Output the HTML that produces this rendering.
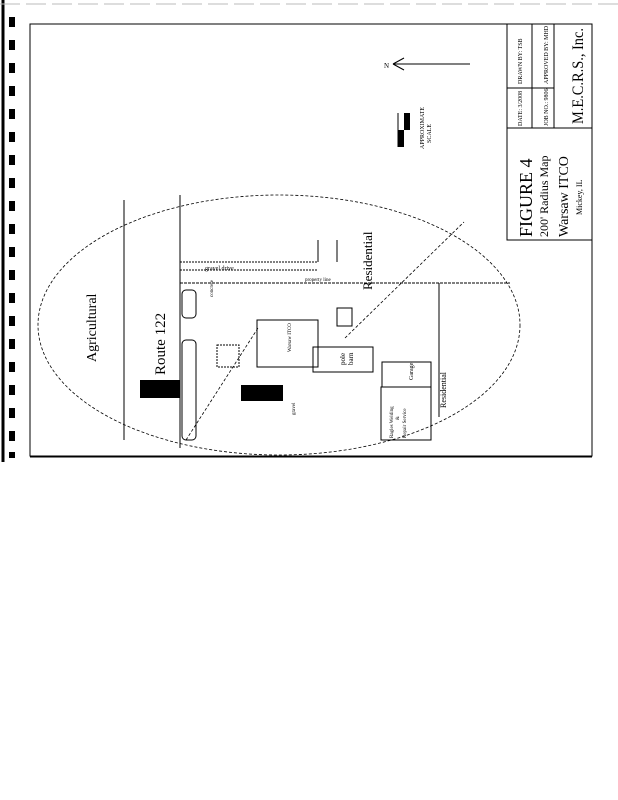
<!DOCTYPE html>
<html><head><style>
html,body{margin:0;padding:0;background:#fff;}
svg{display:block;}
text{font-family:"Liberation Serif",serif;fill:#000;}
</style></head><body>
<svg width="618" height="800" viewBox="0 0 618 800" xmlns="http://www.w3.org/2000/svg">
<rect width="618" height="800" fill="#fff"/>
<line x1="3" y1="0" x2="3" y2="462" stroke="#000" stroke-width="3"/>
<line x1="0" y1="4" x2="618" y2="4" stroke="#bbb" stroke-width="1" stroke-dasharray="20,6"/>
<g fill="#000">
<rect x="9" y="17" width="6" height="10"/><rect x="9" y="40" width="6" height="10"/><rect x="9" y="63" width="6" height="10"/>
<rect x="9" y="86" width="6" height="10"/><rect x="9" y="109" width="6" height="10"/><rect x="9" y="132" width="6" height="10"/>
<rect x="9" y="155" width="6" height="10"/><rect x="9" y="178" width="6" height="10"/><rect x="9" y="201" width="6" height="10"/>
<rect x="9" y="224" width="6" height="10"/><rect x="9" y="247" width="6" height="10"/><rect x="9" y="270" width="6" height="10"/>
<rect x="9" y="293" width="6" height="10"/><rect x="9" y="316" width="6" height="10"/><rect x="9" y="339" width="6" height="10"/>
<rect x="9" y="362" width="6" height="10"/><rect x="9" y="385" width="6" height="10"/><rect x="9" y="408" width="6" height="10"/>
<rect x="9" y="431" width="6" height="10"/><rect x="9" y="452" width="6" height="6"/>
</g>
<rect x="30" y="24" width="562" height="432" fill="none" stroke="#000" stroke-width="1"/>
<line x1="30" y1="457" x2="592" y2="457" stroke="#000" stroke-width="1"/>
<!-- title block -->
<rect x="507" y="24" width="85" height="216" fill="none" stroke="#000"/>
<line x1="507" y1="128" x2="592" y2="128" stroke="#000"/>
<line x1="532" y1="24" x2="532" y2="128" stroke="#000"/>
<line x1="554" y1="24" x2="554" y2="128" stroke="#000"/>
<line x1="507" y1="88" x2="554" y2="88" stroke="#000"/>
<g transform="rotate(-90)">
<text x="-237" y="532" font-size="18">FIGURE 4</text>
<text x="-237" y="548" font-size="12">200' Radius Map</text>
<text x="-237" y="568" font-size="14">Warsaw ITCO</text>
<text x="-215" y="582" font-size="8">Mickey, IL</text>
<text x="-124" y="583" font-size="16" textLength="96" lengthAdjust="spacingAndGlyphs">M.E.C.R.S., Inc.</text>
<text x="-126" y="522" font-size="6">DATE: 3/2008</text>
<text x="-84" y="522" font-size="6">DRAWN BY: TSB</text>
<text x="-126" y="548" font-size="6">JOB NO.: 9806</text>
<text x="-84" y="548" font-size="6">APPROVED BY: MHD</text>
<text x="-149" y="424" font-size="6">APPROXIMATE</text>
<text x="-143" y="431" font-size="6">SCALE</text>
<text x="-362" y="96" font-size="14">Agricultural</text>
<text x="-375" y="165" font-size="15">Route 122</text>
<text x="-290" y="372" font-size="13">Residential</text>
<text x="-408" y="446" font-size="8">Residential</text>
<text x="-352" y="291" font-size="5">Warsaw ITCO</text>
<text x="-365" y="345" font-size="7">pole</text>
<text x="-365" y="353" font-size="7">barn</text>
<text x="-380" y="413" font-size="6">Garage</text>
<text x="-438" y="393" font-size="5">Ragles Welding</text>
<text x="-420" y="399" font-size="5">&amp;</text>
<text x="-438" y="406" font-size="5">Repair Service</text>
<text x="-415" y="295" font-size="5">gravel</text>
<text x="-297" y="213" font-size="5">concrete</text>
</g>
<!-- scale bar -->
<rect x="398" y="130" width="6" height="17" fill="#000"/>
<rect x="404" y="113" width="6" height="17" fill="#000"/>
<line x1="398" y1="113" x2="398" y2="147" stroke="#000"/>
<!-- north arrow -->
<line x1="393" y1="64" x2="470" y2="64" stroke="#000"/>
<line x1="393" y1="64" x2="404" y2="58" stroke="#000"/>
<line x1="393" y1="64" x2="404" y2="70" stroke="#000"/>
<text x="384" y="68" font-size="7">N</text>
<!-- ellipse -->
<ellipse cx="279" cy="325" rx="241" ry="130" fill="none" stroke="#000" stroke-width="0.8" stroke-dasharray="3,2"/>
<!-- road -->
<line x1="124" y1="200" x2="124" y2="440" stroke="#000"/>
<line x1="180" y1="195" x2="180" y2="448" stroke="#000"/>
<rect x="140" y="380" width="40" height="18" fill="#000"/>
<rect x="241" y="385" width="42" height="16" fill="#000"/>
<!-- gravel drive / property line -->
<line x1="180" y1="262" x2="318" y2="262" stroke="#000" stroke-dasharray="2,1"/>
<line x1="180" y1="270" x2="318" y2="270" stroke="#000" stroke-dasharray="2,1"/>
<line x1="180" y1="283" x2="510" y2="283" stroke="#000" stroke-dasharray="3,1"/>
<line x1="318" y1="240" x2="318" y2="262" stroke="#000"/>
<line x1="337" y1="240" x2="337" y2="262" stroke="#000"/>
<text x="205" y="270" font-size="6">gravel drive</text>
<text x="305" y="281" font-size="5">property line</text>
<!-- buildings -->
<rect x="257" y="320" width="61" height="47" fill="none" stroke="#000"/>
<rect x="313" y="347" width="60" height="25" fill="none" stroke="#000"/>
<rect x="382" y="362" width="49" height="25" fill="none" stroke="#000"/>
<rect x="381" y="387" width="50" height="53" fill="none" stroke="#000"/>
<line x1="439" y1="283" x2="439" y2="417" stroke="#000"/>
<rect x="337" y="308" width="15" height="18" fill="none" stroke="#000"/>
<rect x="182" y="290" width="14" height="28" rx="4" fill="none" stroke="#000"/>
<rect x="182" y="340" width="14" height="100" rx="4" fill="none" stroke="#000"/>
<rect x="217" y="345" width="22" height="22" fill="none" stroke="#000" stroke-dasharray="2,1"/>
<!-- diagonals -->
<line x1="186" y1="440" x2="258" y2="328" stroke="#000" stroke-width="0.8" stroke-dasharray="3,2"/>
<line x1="345" y1="338" x2="464" y2="222" stroke="#000" stroke-width="0.8" stroke-dasharray="3,2"/>
<line x1="180" y1="218" x2="180" y2="262" stroke="#000" stroke-dasharray="2,1"/>
</svg>
</body></html>
